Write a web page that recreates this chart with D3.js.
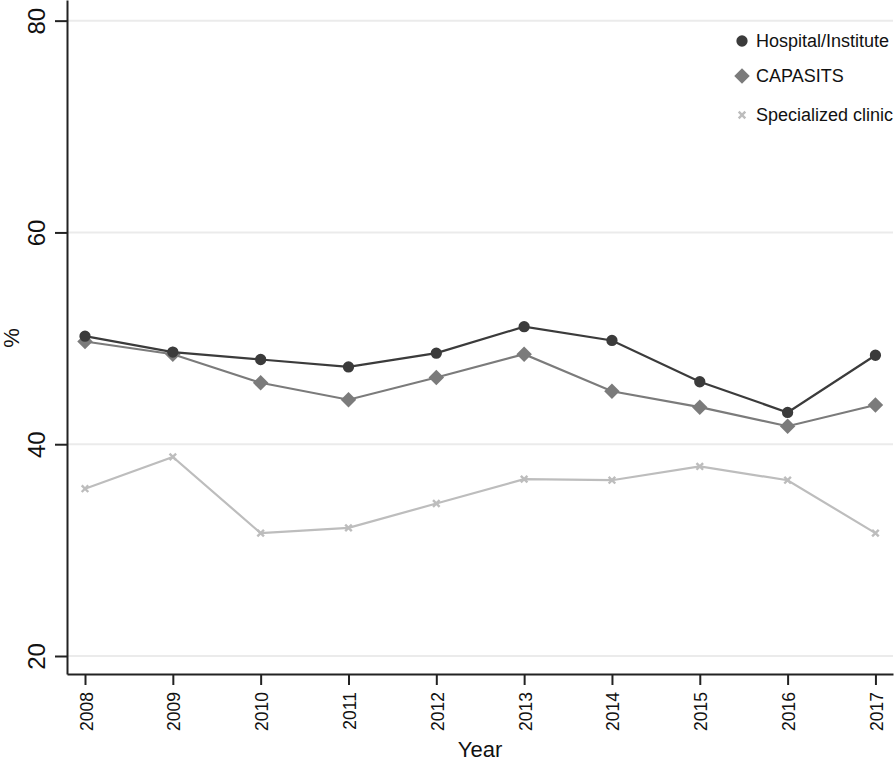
<!DOCTYPE html>
<html>
<head>
<meta charset="utf-8">
<script src="https://cdn.jsdelivr.net/npm/d3@7"></script>
<style>
  body { margin: 0; background: #fff; }
  svg { display: block; font-family: "Liberation Sans", Arial, sans-serif; }
</style>
</head>
<body>
<div id="chart"></div>
<script>
const years = [2008, 2009, 2010, 2011, 2012, 2013, 2014, 2015, 2016, 2017];
const hospital = [50.2, 48.7, 48.0, 47.3, 48.6, 51.1, 49.8, 45.9, 43.0, 48.4];
const capasits = [49.7, 48.5, 45.8, 44.2, 46.3, 48.5, 45.0, 43.5, 41.7, 43.7];
const clinic = [35.8, 38.8, 31.6, 32.1, 34.4, 36.7, 36.6, 37.9, 36.6, 31.6];
const yTicks = [20, 40, 60, 80];
const seriesNames = ["Hospital/Institute", "CAPASITS", "Specialized clinic"];

const width = 896, height = 761;
const svg = d3.select("#chart").append("svg")
    .attr("width", width)
    .attr("height", height);

const x = d3.scaleLinear().domain([2007.795, 2017.2]).range([67, 893]);
const y = d3.scaleLinear().domain([18.3, 81.95]).range([674, 0]);

// grid
svg.append("g")
    .selectAll("line")
    .data(yTicks)
    .join("line")
    .attr("x1", 68).attr("x2", 893)
    .attr("y1", d => y(d)).attr("y2", d => y(d))
    .attr("stroke", "#ebebeb")
    .attr("stroke-width", 2);

// y axis
const yAxis = svg.append("g")
    .attr("transform", "translate(67,0)")
    .call(d3.axisLeft(y).tickValues(yTicks).tickSize(12).tickSizeOuter(0));
yAxis.select(".domain").attr("stroke", "#222").attr("stroke-width", 2);
yAxis.selectAll(".tick line").attr("stroke", "#222").attr("stroke-width", 2);
yAxis.selectAll(".tick text")
    .attr("x", null).attr("dy", null)
    .attr("transform", "translate(-22,0) rotate(-90)")
    .attr("text-anchor", "middle")
    .attr("fill", "#111")
    .style("font-size", "24px");

// x axis
const xAxis = svg.append("g")
    .attr("transform", "translate(0,674)")
    .call(d3.axisBottom(x).tickValues(years).tickFormat(d3.format("d")).tickSize(11).tickSizeOuter(0));
xAxis.select(".domain").attr("stroke", "#222").attr("stroke-width", 2);
xAxis.selectAll(".tick line").attr("stroke", "#222").attr("stroke-width", 2);
xAxis.selectAll(".tick text")
    .attr("y", null).attr("dy", null)
    .attr("transform", "translate(7,18) rotate(-90)")
    .attr("text-anchor", "end")
    .attr("fill", "#111")
    .style("font-size", "17.5px");

// axis titles
svg.append("text")
    .attr("x", 480).attr("y", 757)
    .attr("text-anchor", "middle")
    .style("font-size", "22px")
    .attr("fill", "#111")
    .text("Year");
svg.append("text")
    .attr("transform", "translate(19,338) rotate(-90)")
    .attr("text-anchor", "middle")
    .style("font-size", "22px")
    .attr("fill", "#111")
    .text("%");

const series = [
  { name: seriesNames[0], values: hospital, color: "#3b3b3b", symbol: d3.symbolCircle, size: 100, rot: 0, fill: true },
  { name: seriesNames[1], values: capasits, color: "#7b7b7b", symbol: d3.symbolSquare, size: 120, rot: 45, fill: true },
  { name: seriesNames[2], values: clinic, color: "#bdbdbd", symbol: d3.symbolX, size: 30, rot: 0, fill: false }
];

const line = d3.line()
    .x((d, i) => x(years[i]))
    .y(d => y(d));

// draw lighter series first
series.slice().reverse().forEach(s => {
  svg.append("path")
      .datum(s.values)
      .attr("fill", "none")
      .attr("stroke", s.color)
      .attr("stroke-width", 2.2)
      .attr("d", line);
  svg.append("g")
      .selectAll("path")
      .data(s.values)
      .join("path")
      .attr("transform", (d, i) => `translate(${x(years[i])},${y(d)}) rotate(${s.rot})`)
      .attr("d", d3.symbol(s.symbol, s.size))
      .attr("fill", s.fill ? s.color : "none")
      .attr("stroke", s.color)
      .attr("stroke-width", s.fill ? 0 : 2.4);
});

// legend
const legend = svg.append("g");
const legendY = [41, 76, 115];
series.forEach((s, i) => {
  legend.append("path")
      .attr("transform", `translate(742,${legendY[i]}) rotate(${s.rot})`)
      .attr("d", d3.symbol(s.symbol, s.size))
      .attr("fill", s.fill ? s.color : "none")
      .attr("stroke", s.color)
      .attr("stroke-width", s.fill ? 0 : 2.4);
  legend.append("text")
      .attr("x", 756).attr("y", legendY[i] + 6)
      .style("font-size", "18px")
      .attr("fill", "#111")
      .text(s.name);
});
</script>
</body>
</html>
